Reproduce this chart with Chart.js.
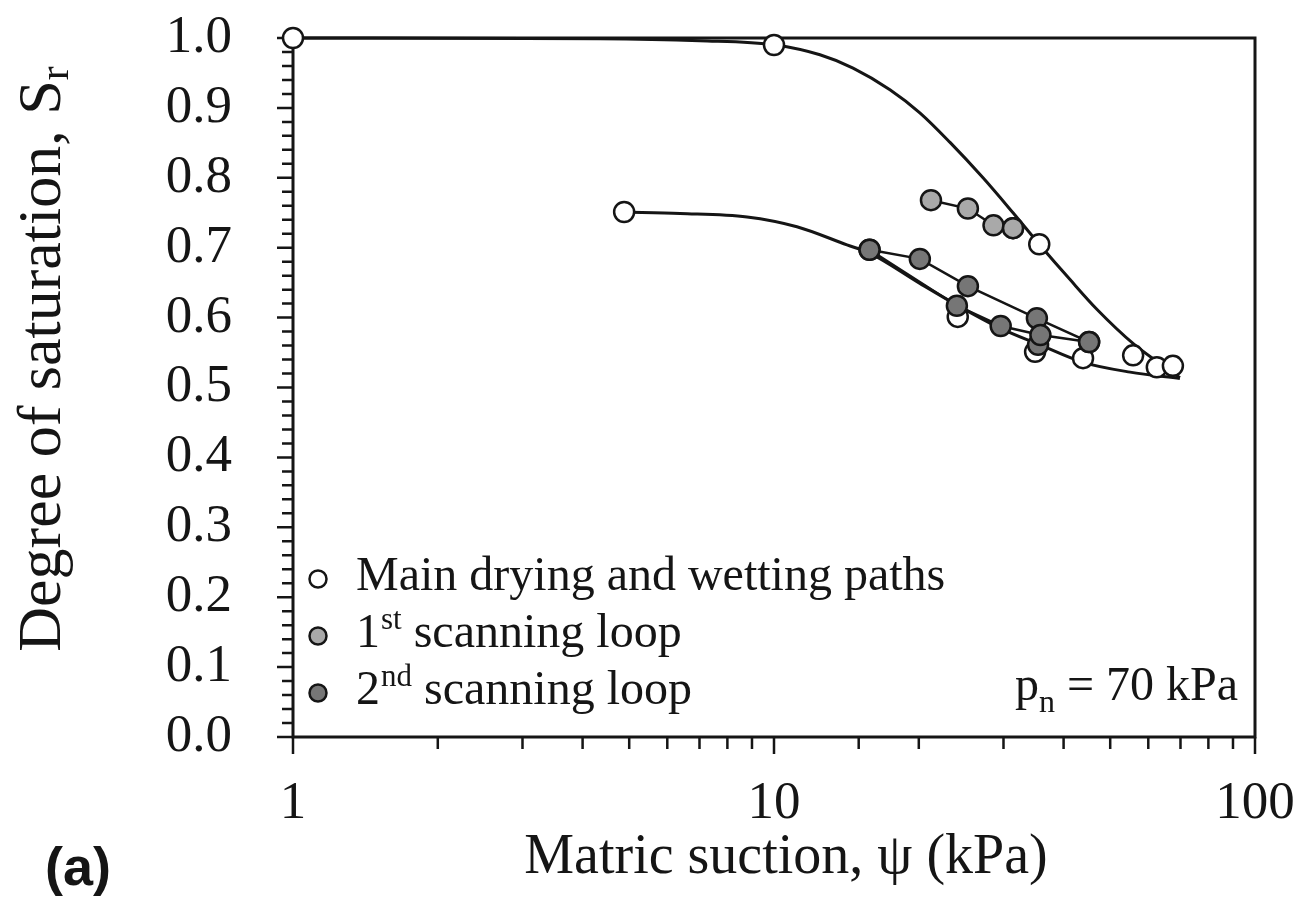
<!DOCTYPE html>
<html>
<head>
<meta charset="utf-8">
<script src="https://cdn.jsdelivr.net/npm/chart.js@4"></script>
<style>
  html, body { margin: 0; padding: 0; background: #fff; }
  #wrap { width: 1305px; height: 906px; }
</style>
</head>
<body>
<div id="wrap"><canvas id="swcc" width="1305" height="906"></canvas></div>
<script>
// matric suction (kPa) / degree of saturation

// fitted main drying curve
const dryFitX = [1, 4.35, 7.0, 10.05, 12.46, 14.6, 17.42, 20.1, 23.2, 27.2, 31.4, 35.6, 41.3, 46.9, 56.0, 63.5, 69.8];
const dryFitY = [1.0, 0.999, 0.996, 0.990, 0.976, 0.957, 0.926, 0.893, 0.851, 0.800, 0.750, 0.705, 0.654, 0.612, 0.562, 0.534, 0.514];

// fitted main wetting curve
const wetFitX = [4.85, 6.38, 8.79, 11.16, 14.18, 15.84, 20.1, 24.0, 29.5, 35.7, 43.9, 55.0, 69.8];
const wetFitY = [0.751, 0.749, 0.744, 0.730, 0.704, 0.692, 0.649, 0.618, 0.585, 0.561, 0.536, 0.522, 0.513];

// measured points, main drying and wetting paths (open circles)
const mainX = [1, 10, 4.88, 24.1, 31.4, 35.6, 34.9, 43.9, 45.2, 55.8, 62.5, 67.5];
const mainY = [1.0, 0.99, 0.751, 0.601, 0.728, 0.705, 0.551, 0.542, 0.565, 0.546, 0.529, 0.531];

// 1st scanning loop (light grey)
const scan1X = [21.2, 25.3, 28.6, 31.4];
const scan1Y = [0.768, 0.756, 0.732, 0.728];

// 2nd scanning loop (dark grey)
const scan2X = [15.8, 20.1, 25.3, 35.2, 45.2, 35.8, 29.6, 24.0, 15.8];
const scan2Y = [0.697, 0.684, 0.645, 0.599, 0.565, 0.575, 0.588, 0.617, 0.697];
const scan2ExtraX = [35.4];
const scan2ExtraY = [0.561];

const yTickLabels = ['0.0', '0.1', '0.2', '0.3', '0.4', '0.5', '0.6', '0.7', '0.8', '0.9', '1.0'];
const xTickLabels = ['1', '10', '100'];

const serif = '"Liberation Serif", "Times New Roman", serif';
const ink = '#151515';

function pts(xs, ys) {
    return xs.map((x, i) => ({ x: x, y: ys[i] }));
}

// keep the plot box where the figure has it, no extra room for edge labels
function noEdgePadding(scale) {
    scale.paddingTop = 0;
    scale.paddingBottom = 0;
    scale.paddingLeft = 0;
    scale.paddingRight = 0;
}

// box, tick marks and all the free text
const framePlugin = {
    id: 'frame',
    beforeDatasetsDraw(chart) {
        const { ctx, chartArea: a, scales: { x, y } } = chart;
        ctx.save();
        ctx.strokeStyle = ink;
        ctx.lineWidth = 3;
        ctx.strokeRect(a.left, a.top, a.right - a.left, a.bottom - a.top);

        ctx.lineWidth = 2.5;
        ctx.beginPath();
        // y ticks every 0.02, longer at each 0.1
        for (let i = 0; i <= 50; i++) {
            const py = y.getPixelForValue(i * 0.02);
            const len = i % 5 === 0 ? 16 : 11;
            ctx.moveTo(a.left, py);
            ctx.lineTo(a.left - len, py);
        }
        // x ticks from the log scale (1..9, 10..90, 100)
        x.ticks.forEach(t => {
            const px = x.getPixelForValue(t.value);
            const major = Math.abs(Math.log10(t.value) - Math.round(Math.log10(t.value))) < 1e-9;
            ctx.moveTo(px, a.bottom);
            ctx.lineTo(px, a.bottom + (major ? 17 : 12));
        });
        ctx.stroke();
        ctx.restore();
    },
    afterDraw(chart) {
        const { ctx, chartArea: a } = chart;
        ctx.save();
        ctx.fillStyle = ink;

        // y axis title with subscript
        const big = '62px ' + serif, sub = '42px ' + serif;
        ctx.font = big;
        const t1 = 'Degree of saturation, S';
        const w1 = ctx.measureText(t1).width;
        ctx.font = sub;
        const w2 = ctx.measureText('r').width;
        ctx.translate(44, 359);
        ctx.rotate(-Math.PI / 2);
        ctx.textBaseline = 'middle';
        ctx.textAlign = 'left';
        const start = -(w1 + w2) / 2;
        ctx.font = big;
        ctx.fillText(t1, start, 0);
        ctx.font = sub;
        ctx.fillText('r', start + w1, 13);
        ctx.setTransform(1, 0, 0, 1, 0, 0);

        // x axis title
        ctx.font = '56px ' + serif;
        ctx.textAlign = 'center';
        ctx.textBaseline = 'alphabetic';
        ctx.fillText('Matric suction, \u03C8 (kPa)', (a.left + a.right) / 2 + 12, 873);

        // panel label
        ctx.font = 'bold 54px "Liberation Sans", Arial, sans-serif';
        ctx.textAlign = 'left';
        ctx.fillText('(a)', 45, 885);

        // legend inside the plot
        const rows = [
            { fill: '#ffffff', head: 'Main drying and wetting paths', sup: '', tail: '' },
            { fill: '#a9a9a9', head: '1', sup: 'st', tail: ' scanning loop' },
            { fill: '#767676', head: '2', sup: 'nd', tail: ' scanning loop' }
        ];
        const lx = a.left + 25, tx = a.left + 63;
        rows.forEach((r, i) => {
            const base = 590 + i * 57;
            ctx.beginPath();
            ctx.arc(lx, base - 11, 8.5, 0, Math.PI * 2);
            ctx.fillStyle = r.fill;
            ctx.fill();
            ctx.lineWidth = 2.5;
            ctx.strokeStyle = ink;
            ctx.stroke();
            ctx.fillStyle = ink;
            ctx.font = '48px ' + serif;
            ctx.fillText(r.head, tx, base);
            let cx = tx + ctx.measureText(r.head).width;
            if (r.sup) {
                ctx.font = '31px ' + serif;
                ctx.fillText(r.sup, cx + 1, base - 18);
                cx += ctx.measureText(r.sup).width + 1;
                ctx.font = '48px ' + serif;
                ctx.fillText(r.tail, cx, base);
            }
        });

        // net stress note
        ctx.font = '48px ' + serif;
        const wp = ctx.measureText('p').width;
        const rest = ' = 70 kPa';
        const wr = ctx.measureText(rest).width;
        ctx.font = '32px ' + serif;
        const wn = ctx.measureText('n').width;
        const px = 1238 - (wp + wn + wr);
        ctx.font = '48px ' + serif;
        ctx.fillText('p', px, 700);
        ctx.font = '32px ' + serif;
        ctx.fillText('n', px + wp, 712);
        ctx.font = '48px ' + serif;
        ctx.fillText(rest, px + wp + wn, 700);

        ctx.restore();
    }
};

const curveStyle = {
    showLine: true,
    borderColor: ink,
    borderWidth: 3,
    pointRadius: 0,
    cubicInterpolationMode: 'monotone',
    clip: false
};

const ctx = document.getElementById('swcc').getContext('2d');
const chart = new Chart(ctx, {
    type: 'scatter',
    data: {
        datasets: [
            {
                label: '2nd scanning loop',
                data: pts(scan2X, scan2Y),
                showLine: true,
                borderColor: ink,
                borderWidth: 2.5,
                pointBackgroundColor: '#767676',
                pointBorderColor: ink,
                pointBorderWidth: 2.5,
                pointRadius: 10,
                clip: false
            },
            {
                label: '2nd scanning loop (extra)',
                data: pts(scan2ExtraX, scan2ExtraY),
                pointBackgroundColor: '#767676',
                pointBorderColor: ink,
                pointBorderWidth: 2.5,
                pointRadius: 10,
                clip: false
            },
            {
                label: '1st scanning loop',
                data: pts(scan1X, scan1Y),
                showLine: true,
                borderColor: ink,
                borderWidth: 2.5,
                pointBackgroundColor: '#a9a9a9',
                pointBorderColor: ink,
                pointBorderWidth: 2.5,
                pointRadius: 10,
                clip: false
            },
            {
                label: 'Main drying and wetting paths',
                data: pts(mainX, mainY),
                pointBackgroundColor: '#ffffff',
                pointBorderColor: ink,
                pointBorderWidth: 2.5,
                pointRadius: 10,
                clip: false
            },
            Object.assign({ label: 'Drying fit', data: pts(dryFitX, dryFitY) }, curveStyle),
            Object.assign({ label: 'Wetting fit', data: pts(wetFitX, wetFitY) }, curveStyle)
        ]
    },
    options: {
        responsive: false,
        animation: false,
        layout: { padding: { top: 38, right: 50, left: 0, bottom: 0 } },
        plugins: {
            legend: { display: false },
            tooltip: { enabled: false }
        },
        scales: {
            x: {
                type: 'logarithmic',
                min: 1,
                max: 100,
                border: { display: false },
                grid: { display: false, drawTicks: false },
                ticks: {
                    autoSkip: false,
                    maxRotation: 0,
                    padding: 35,
                    color: ink,
                    font: { family: serif, size: 53 },
                    callback: function(v) {
                        const i = [1, 10, 100].indexOf(v);
                        return i >= 0 ? xTickLabels[i] : '';
                    }
                },
                afterFit: function(scale) {
                    scale.height = 169;
                    noEdgePadding(scale);
                }
            },
            y: {
                min: 0,
                max: 1,
                border: { display: false },
                grid: { display: false, drawTicks: false },
                ticks: {
                    autoSkip: false,
                    stepSize: 0.1,
                    padding: 61,
                    color: ink,
                    font: { family: serif, size: 53 },
                    callback: function(v) {
                        return yTickLabels[Math.round(v * 10)];
                    }
                },
                afterFit: function(scale) {
                    scale.width = 293;
                    noEdgePadding(scale);
                }
            }
        }
    },
    plugins: [framePlugin]
});
</script>
</body>
</html>
